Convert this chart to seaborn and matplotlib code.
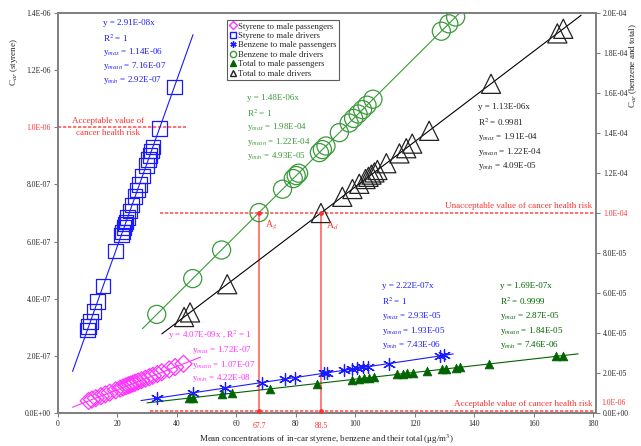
import numpy as np
import pandas as pd
import seaborn as sns
import matplotlib.pyplot as plt
from matplotlib.ticker import FuncFormatter, MultipleLocator
from matplotlib.lines import Line2D

# Styrene to male passengers (left axis)
sty_pas_x = [10.4, 11.5, 12.8, 14.5, 16.0, 17.5, 19.5, 21.0, 22.0, 23.0, 23.8, 24.5,
             25.3, 26.0, 27.0, 28.2, 29.5, 30.8, 32.0, 33.5, 35.0, 37.5, 39.5, 42.3]
sty_pas_y = [4.23e-08, 4.68e-08, 5.21e-08, 5.90e-08, 6.51e-08, 7.12e-08, 7.94e-08, 8.55e-08,
             8.95e-08, 9.36e-08, 9.69e-08, 9.97e-08, 1.030e-07, 1.058e-07, 1.099e-07, 1.148e-07,
             1.201e-07, 1.254e-07, 1.302e-07, 1.363e-07, 1.425e-07, 1.526e-07, 1.608e-07, 1.722e-07]

# Styrene to male drivers (left axis)
sty_drv_x = [10.0, 10.4, 11.0, 12.2, 13.4, 15.3, 19.5, 21.4, 21.8, 22.3, 22.7, 23.0, 23.5,
             24.3, 25.0, 26.0, 26.8, 27.5, 28.5, 29.8, 30.5, 31.0, 31.5, 32.0, 34.2, 39.2]
sty_drv_y = [2.91e-07, 3.03e-07, 3.20e-07, 3.55e-07, 3.90e-07, 4.45e-07, 5.67e-07, 6.23e-07,
             6.34e-07, 6.49e-07, 6.61e-07, 6.69e-07, 6.84e-07, 7.07e-07, 7.28e-07, 7.57e-07,
             7.80e-07, 8.00e-07, 8.29e-07, 8.67e-07, 8.88e-07, 9.02e-07, 9.17e-07, 9.31e-07,
             9.95e-07, 1.141e-06]

# Benzene to male passengers (right axis)
ben_pas_x = [33.5, 45.4, 56.2, 68.6, 76.3, 79.7, 89.7, 90.6, 96.4, 99.1, 100.8, 102.5,
             104.2, 111.5, 128.5, 130.0]
ben_pas_y = [7.44e-06, 1.008e-05, 1.248e-05, 1.523e-05, 1.694e-05, 1.769e-05, 1.991e-05,
             2.011e-05, 2.140e-05, 2.200e-05, 2.238e-05, 2.276e-05, 2.313e-05, 2.475e-05,
             2.853e-05, 2.886e-05]

# Benzene to male drivers (right axis)
ben_drv_x = [33.3, 45.4, 55.1, 67.7, 75.6, 79.2, 80.2, 81.0, 88.0, 89.0, 90.2, 94.7, 98.0,
             99.5, 101.0, 102.5, 104.0, 106.0, 129.0, 131.5, 133.8]
ben_drv_y = [4.93e-05, 6.72e-05, 8.15e-05, 1.002e-04, 1.119e-04, 1.172e-04, 1.187e-04,
             1.199e-04, 1.302e-04, 1.317e-04, 1.335e-04, 1.402e-04, 1.450e-04, 1.473e-04,
             1.495e-04, 1.517e-04, 1.539e-04, 1.569e-04, 1.909e-04, 1.946e-04, 1.980e-04]

# Total to male passengers (right axis)
tot_pas_x = [44.1, 45.5, 55.2, 58.5, 71.3, 87.3, 99.0, 101.4, 103.0, 104.8, 106.5, 114.0,
             116.0, 117.5, 119.5, 124.3, 129.3, 130.5, 134.0, 135.2, 145.0, 167.5, 169.8]
tot_pas_y = [7.46e-06, 7.69e-06, 9.33e-06, 9.89e-06, 1.205e-05, 1.475e-05, 1.673e-05,
             1.714e-05, 1.741e-05, 1.771e-05, 1.800e-05, 1.927e-05, 1.960e-05, 1.986e-05,
             2.020e-05, 2.101e-05, 2.185e-05, 2.205e-05, 2.265e-05, 2.285e-05, 2.451e-05,
             2.831e-05, 2.870e-05]

# Total to male drivers (right axis)
tot_drv_x = [42.5, 44.5, 57.0, 88.5, 95.7, 99.1, 101.4, 103.5, 104.5, 105.5, 106.5, 107.5,
             110.5, 114.9, 117.2, 119.2, 124.9, 145.7, 168.0, 170.0]
tot_drv_y = [4.80e-05, 5.03e-05, 6.44e-05, 1.000e-04, 1.081e-04, 1.120e-04, 1.146e-04,
             1.170e-04, 1.181e-04, 1.192e-04, 1.203e-04, 1.215e-04, 1.249e-04, 1.298e-04,
             1.324e-04, 1.347e-04, 1.411e-04, 1.646e-04, 1.898e-04, 1.921e-04]

# fitted slopes (through origin) and the x span of each trend line
slopes = {"sty_pas": 4.07e-09, "sty_drv": 2.91e-08, "ben_pas": 2.22e-07,
          "ben_drv": 1.48e-06, "tot_pas": 1.69e-07, "tot_drv": 1.13e-06}
fit_span = {"sty_pas": (5, 48), "sty_drv": (5, 45.5), "ben_pas": (28, 133),
            "ben_drv": (28.5, 137), "tot_pas": (30, 175), "tot_drv": (35, 176)}

crossings = [67.7, 88.5]
risk_low, risk_high = 1e-06, 1e-04

W, H = 641, 446


def fx(px):
    return px / W


def fy(py):
    return 1 - py / H


sns.set_style("ticks")
plt.rcParams["font.family"] = ["Liberation Serif", "DejaVu Serif"]
plt.rcParams["mathtext.fontset"] = "stix"

fig = plt.figure(figsize=(6.41, 4.46), dpi=100)
ax = fig.add_axes([fx(57.7), 33 / H, (596 - 57.7) / W, 400 / H])
ax2 = ax.twinx()

GRAY = "#808080"
BLUE = "#1a1aff"
MAG = "#ff33ff"
GREEN = "#3a9a3a"
DKGREEN = "#006400"
RED = "#ff3030"


def fit_line(axis, key, color):
    x0, x1 = fit_span[key]
    xs = np.array([x0, x1])
    sns.lineplot(x=xs, y=slopes[key] * xs, ax=axis, color=color, lw=0.8, zorder=2)


# trend lines
fit_line(ax, "sty_pas", MAG)
fit_line(ax, "sty_drv", BLUE)
fit_line(ax2, "ben_pas", BLUE)
fit_line(ax2, "ben_drv", GREEN)
fit_line(ax2, "tot_pas", DKGREEN)
fit_line(ax2, "tot_drv", "black")

# scatter series
sns.scatterplot(x=sty_pas_x, y=sty_pas_y, ax=ax, marker="D", s=75, facecolor="none",
                edgecolor=MAG, linewidth=0.9, zorder=3)
sns.scatterplot(x=sty_drv_x, y=sty_drv_y, ax=ax, marker="s", s=110, facecolor="none",
                edgecolor=BLUE, linewidth=0.9, zorder=3)
sns.scatterplot(x=ben_pas_x, y=ben_pas_y, ax=ax2, marker=(6, 2, 0), s=75, color=BLUE,
                linewidth=0.9, zorder=3)
sns.scatterplot(x=ben_drv_x, y=ben_drv_y, ax=ax2, marker="o", s=170, facecolor="none",
                edgecolor=GREEN, linewidth=0.9, zorder=3)
sns.scatterplot(x=tot_pas_x, y=tot_pas_y, ax=ax2, marker="^", s=40, color=DKGREEN,
                edgecolor=DKGREEN, linewidth=0.5, zorder=3)
sns.scatterplot(x=tot_drv_x, y=tot_drv_y, ax=ax2, marker="^", s=190, facecolor="none",
                edgecolor="#222222", linewidth=0.9, zorder=3)

# axes limits / ticks
ax.set_xlim(0, 181)
ax.set_ylim(0, 1.4e-06)
ax2.set_ylim(0, 2.0e-04)
ax.xaxis.set_major_locator(MultipleLocator(20))
ax.yaxis.set_major_locator(MultipleLocator(2e-07))
ax2.yaxis.set_major_locator(MultipleLocator(2e-05))
sci = FuncFormatter(lambda v, p: f"{v:.1E}")
ax.yaxis.set_major_formatter(sci)
ax2.yaxis.set_major_formatter(sci)
ax.xaxis.set_major_formatter(FuncFormatter(lambda v, p: f"{v:.0f}"))

for a in (ax, ax2):
    for s in a.spines.values():
        s.set_color(GRAY)
        s.set_linewidth(1.4)
    a.tick_params(labelsize=5.5, length=3, width=0.8, color=GRAY, pad=2)
ax2.spines["top"].set_visible(True)
ax.spines["top"].set_visible(True)
ax.spines["right"].set_visible(False)
ax2.spines["left"].set_visible(False)

for lab in ax.get_yticklabels():
    if abs(float(lab.get_position()[1]) - 1e-06) < 1e-09:
        lab.set_color(RED)
for lab in ax2.get_yticklabels():
    if abs(float(lab.get_position()[1]) - 1e-04) < 1e-07:
        lab.set_color(RED)

ax.set_xlabel("Mean concentrations of in-car styrene, benzene and their total (\u03bcg/m$^3$)",
              fontsize=6.5, labelpad=3)
ax.set_ylabel("")
ax2.set_ylabel("")
fig.text(fx(14), fy(62), "C$_{ar}$ (styrene)", rotation=90, ha="center", va="center", fontsize=6.5)
fig.text(fx(633), fy(108), "C$_{ar}$ (benzene and total)", rotation=90, ha="center", va="bottom",
         fontsize=6.5)

# cancer risk reference lines
dash = (0, (2, 1))
ax.hlines(risk_low, 0, 43, color=RED, lw=1.2, ls=dash, alpha=0.8, zorder=1)
ax2.hlines(risk_high, 34.5, 181, color=RED, lw=1.2, ls=dash, alpha=0.8, zorder=1)
ax2.hlines(risk_low, 31, 181, color=RED, lw=1.2, ls=dash, alpha=0.8, zorder=1)
ax2.vlines(crossings, 0, risk_high, color="#ff7070", lw=1.3, zorder=1)
sns.scatterplot(x=crossings + crossings, y=[risk_high, risk_high, risk_low, risk_low], ax=ax2,
                color=RED, s=12, linewidth=0, zorder=4)
ax2.annotate("1.0E-06", (1, 0), xycoords="axes fraction", xytext=(4, 7),
             textcoords="offset points", color=RED, fontsize=5.5, ha="left", va="center",
             annotation_clip=False)

fig.text(fx(108), fy(121), "Acceptable value of", color=RED, fontsize=6.5, ha="center", va="center")
fig.text(fx(108), fy(133), "cancer health risk", color=RED, fontsize=6.5, ha="center", va="center")
fig.text(fx(592), fy(206), "Unacceptable value of cancer health risk", color=RED, fontsize=6.5,
         ha="right", va="center")
fig.text(fx(592), fy(404), "Acceptable value of cancer health risk", color=RED, fontsize=6.5,
         ha="right", va="center")
for xv, lab in zip(crossings, ["A$_g$", "A$_d$"]):
    ax2.annotate(lab, (xv, risk_high), xytext=(4, -9), textcoords="offset points", color=RED,
                 fontsize=7, ha="left", va="center")
    ax.annotate(f"{xv}", (xv, 0), xytext=(0, -9), textcoords="offset points", color=RED,
                fontsize=5.5, ha="center", va="center", annotation_clip=False)

# equation boxes
blocks = [
    (BLUE, 103, [23, 38, 52, 66, 80],
     ["y = 2.91E-08x", "R$^2$ = 1", "y$_{max}$ = 1.14E-06", "y$_{mean}$ = 7.16E-07",
      "y$_{min}$ = 2.92E-07"]),
    (GREEN, 247, [98, 113, 127, 142, 156],
     ["y = 1.48E-06x", "R$^2$ = 1", "y$_{max}$ = 1.98E-04", "y$_{mean}$ = 1.22E-04",
      "y$_{min}$ = 4.93E-05"]),
    ("#222222", 478, [107, 122, 137, 152, 166],
     ["y = 1.13E-06x", "R$^2$ = 0.9981", "y$_{max}$ = 1.91E-04", "y$_{mean}$ = 1.22E-04",
      "y$_{min}$ = 4.09E-05"]),
    (BLUE, 382, [286, 301, 316, 331, 345],
     ["y = 2.22E-07x", "R$^2$ = 1", "y$_{max}$ = 2.93E-05", "y$_{mean}$ = 1.93E-05",
      "y$_{min}$ = 7.43E-06"]),
    (DKGREEN, 500, [286, 301, 316, 331, 345],
     ["y = 1.69E-07x", "R$^2$ = 0.9999", "y$_{max}$ = 2.87E-05", "y$_{mean}$ = 1.84E-05",
      "y$_{min}$ = 7.46E-06"]),
    (MAG, 192, [350, 365, 378],
     ["y$_{max}$ = 1.72E-07", "y$_{mean}$ = 1.07E-07", "y$_{min}$ = 4.22E-08"]),
]
for color, px, pys, lines in blocks:
    for py, t in zip(pys, lines):
        fig.text(fx(px), fy(py), t, color=color, fontsize=6.5, ha="left", va="center")
fig.text(fx(168), fy(335), "y = 4.07E-09x , R$^2$ = 1", color=MAG, fontsize=6.5, ha="left",
         va="center")

# legend
handles = [
    Line2D([], [], ls="none", marker="D", mfc="none", mec=MAG, ms=4),
    Line2D([], [], ls="none", marker="s", mfc="none", mec=BLUE, ms=4.5),
    Line2D([], [], ls="none", marker=(6, 2, 0), color=BLUE, ms=4.5),
    Line2D([], [], ls="none", marker="o", mfc="none", mec=GREEN, ms=4.5),
    Line2D([], [], ls="none", marker="^", color=DKGREEN, ms=4.5),
    Line2D([], [], ls="none", marker="^", mfc="none", mec="#222222", ms=4.5),
]
labels = ["Styrene to male passengers", "Styrene to male drivers", "Benzene to male passengers",
          "Benzene to male drivers", "Total to male passengers", "Total to male drivers"]
leg = ax2.legend(handles, labels, loc="upper left", bbox_to_anchor=(0.3145, 0.983),
                 fontsize=6.3, frameon=True, fancybox=False, borderpad=0.3, labelspacing=0.15,
                 handlelength=0.8, handletextpad=0.2, borderaxespad=0)
leg.get_frame().set_edgecolor("#333333")
leg.get_frame().set_linewidth(0.8)

fig.savefig("out.png", dpi=100)
